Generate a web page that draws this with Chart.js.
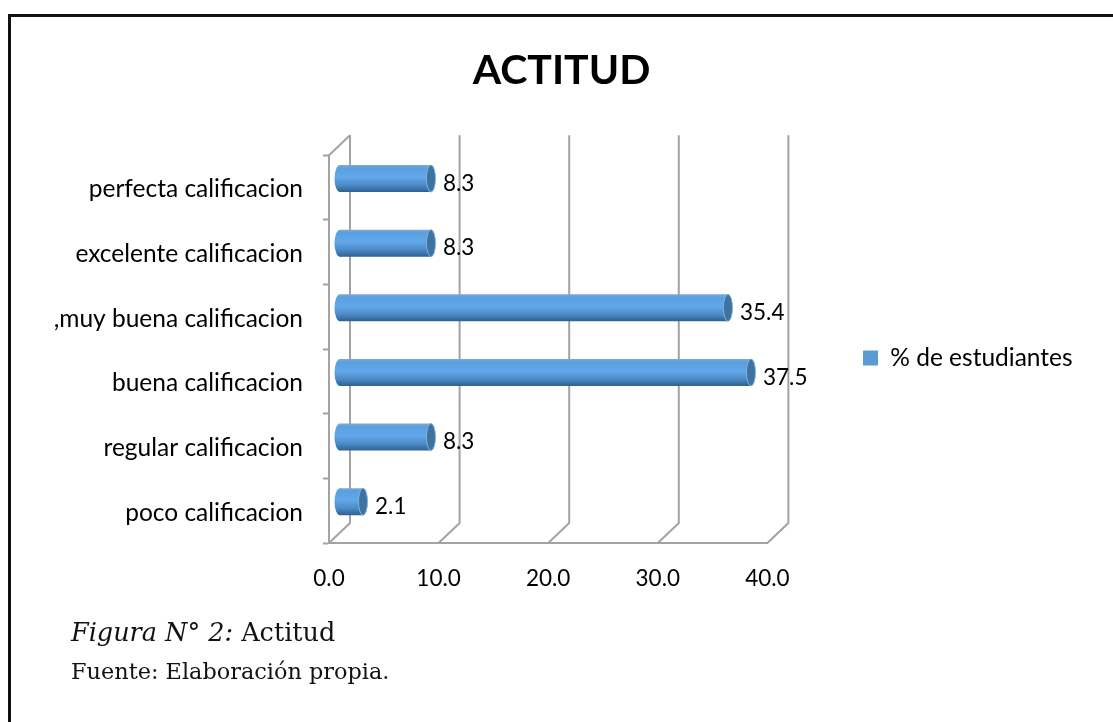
<!DOCTYPE html>
<html><head><meta charset="utf-8">
<style>
html,body{margin:0;padding:0;background:#fff;overflow:hidden}
#wrap{position:relative;width:1113px;height:722px;overflow:hidden}
#frame{position:absolute;left:8px;top:14px;width:1200px;height:800px;border:3px solid #111;box-sizing:border-box}
canvas{position:absolute;left:0;top:0}
.cap{position:absolute;left:71px;font-family:"DejaVu Serif",serif;color:#111;white-space:nowrap}
</style>
<script src="https://cdn.jsdelivr.net/npm/chart.js@4"></script>
</head><body>
<div id="wrap">
<div id="frame"></div>
<canvas id="c" width="1113" height="722"></canvas>
<div class="cap" style="top:617px;font-size:25.5px"><i>Figura N° 2:</i> Actitud</div>
<div class="cap" style="top:658px;font-size:22.4px">Fuente: Elaboración propia.</div>
</div>
<script>
const categories = ["perfecta calificacion","excelente calificacion",",muy buena calificacion","buena calificacion","regular calificacion","poco calificacion"];
const values = [8.3,8.3,35.4,37.5,8.3,2.1];
const seriesName = "% de estudiantes";
const xTicks = [0,10,20,30,40];
const font = 'Lato, sans-serif';
const DX = 21, DY = -20;       // wall depth
const BX = 11, BY = -9;        // bar depth
const GRID = "#a3a3a3";

function barGradient(ctx,py){
  const g=ctx.createLinearGradient(0,py-13.5,0,py+13.5);
  g.addColorStop(0,"#7aa9d6");
  g.addColorStop(0.12,"#5b9fe0");
  g.addColorStop(0.45,"#62a8ea");
  g.addColorStop(0.75,"#4b8ac6");
  g.addColorStop(1,"#2f618f");
  return g;
}

const threeD = {
  id:"threeD",
  afterLayout(chart){
    const l=chart.legend, t=chart.titleBlock;
    const h=l.height;
    l.left=853; l.right=853+l.width+40;
    l.top=358-h/2; l.bottom=358+h/2;
    t.left=5; t.right=1118;
  },
  beforeDatasetsDraw(chart){
    const {ctx,scales:{x,y}} = chart;
    const top=y.top,bot=y.bottom;
    ctx.save();
    ctx.strokeStyle=GRID;ctx.lineWidth=2;
    xTicks.forEach(v=>{
      const p=x.getPixelForValue(v);
      ctx.beginPath();
      ctx.moveTo(p,bot);ctx.lineTo(p+DX,bot+DY);ctx.lineTo(p+DX,top+DY);
      ctx.stroke();
    });
    const p0=x.getPixelForValue(0);
    ctx.beginPath();ctx.moveTo(p0,top);ctx.lineTo(p0+DX,top+DY);ctx.stroke();
    ctx.restore();
  },
  beforeDatasetDraw(chart,args){
    const ctx=chart.ctx;
    ctx.save();
    ctx.translate(BX,BY);
    args.meta.data.forEach(el=>{
      ctx.beginPath();
      ctx.ellipse(el.base,el.y,5.5,el.height/2,0,0,Math.PI*2);
      ctx.fillStyle=barGradient(ctx,el.y);ctx.fill();
    });
  },
  afterDatasetDraw(chart,args){
    const ctx=chart.ctx;
    args.meta.data.forEach(el=>{
      const h=el.height/2;
      ctx.beginPath();
      ctx.ellipse(el.x,el.y,4.5,h,0,0,Math.PI*2);
      ctx.fillStyle="#3f739f";ctx.fill();
      ctx.strokeStyle="#7fb2dd";ctx.lineWidth=1;ctx.stroke();
    });
    ctx.restore();
  },
  afterDatasetsDraw(chart){
    const ctx=chart.ctx;
    const meta=chart.getDatasetMeta(0);
    ctx.save();
    ctx.fillStyle="#000";ctx.font='22.5px '+font;
    ctx.textBaseline="middle";
    meta.data.forEach((el,i)=>{
      ctx.fillText(values[i].toFixed(1),el.x+BX+12,el.y+BY+5);
    });
    ctx.restore();
  }
};

new Chart(document.getElementById("c"),{
  type:"bar",
  plugins:[threeD],
  data:{labels:categories,datasets:[{
    label:seriesName,
    data:values,
    categoryPercentage:1,
    barPercentage:27/64.67,
    borderWidth:0,
    backgroundColor(c){
      const ch=c.chart,y=ch.scales.y;
      if(!y||c.dataIndex===undefined||c.type!=="data") return "#5b9bd5";
      return barGradient(ch.ctx,y.getPixelForValue(c.dataIndex));
    }
  }]},
  options:{
    indexAxis:"y",
    responsive:false,
    animation:false,
    devicePixelRatio:1,
    layout:{padding:{left:0,right:116,top:0,bottom:116}},
    plugins:{
      title:{display:true,text:"ACTITUD",color:"#000",font:{family:font,size:41,weight:"bold"},padding:{top:46,bottom:60}},
      legend:{position:"right",labels:{boxWidth:15,boxHeight:15,color:"#000",font:{family:font,size:24.5},useBorderRadius:false,padding:10,
        generateLabels(ch){return [{text:seriesName,fillStyle:"#5b9bd5",strokeStyle:"#5b9bd5",lineWidth:0,datasetIndex:0}];}}},
      tooltip:{enabled:false}
    },
    scales:{
      x:{min:0,max:40,
        afterBuildTicks(s){s.ticks=xTicks.map(v=>({value:v}));},
        grid:{display:false,drawTicks:true,tickLength:8,tickColor:GRID,tickWidth:2},
        border:{color:GRID,width:2},
        ticks:{color:"#000",font:{family:font,size:22.5},padding:14,maxRotation:0,callback:v=>Number(v).toFixed(1)}},
      y:{grid:{display:true,drawOnChartArea:false,drawTicks:true,tickLength:6,tickColor:GRID,tickWidth:2},
        border:{color:GRID,width:2},
        afterFit(s){s.width=329;},
        ticks:{color:"#000",font:{family:font,size:24.5},padding:20,labelOffset:2,autoSkip:false}}
    }
  }
});
</script>
</body></html>
